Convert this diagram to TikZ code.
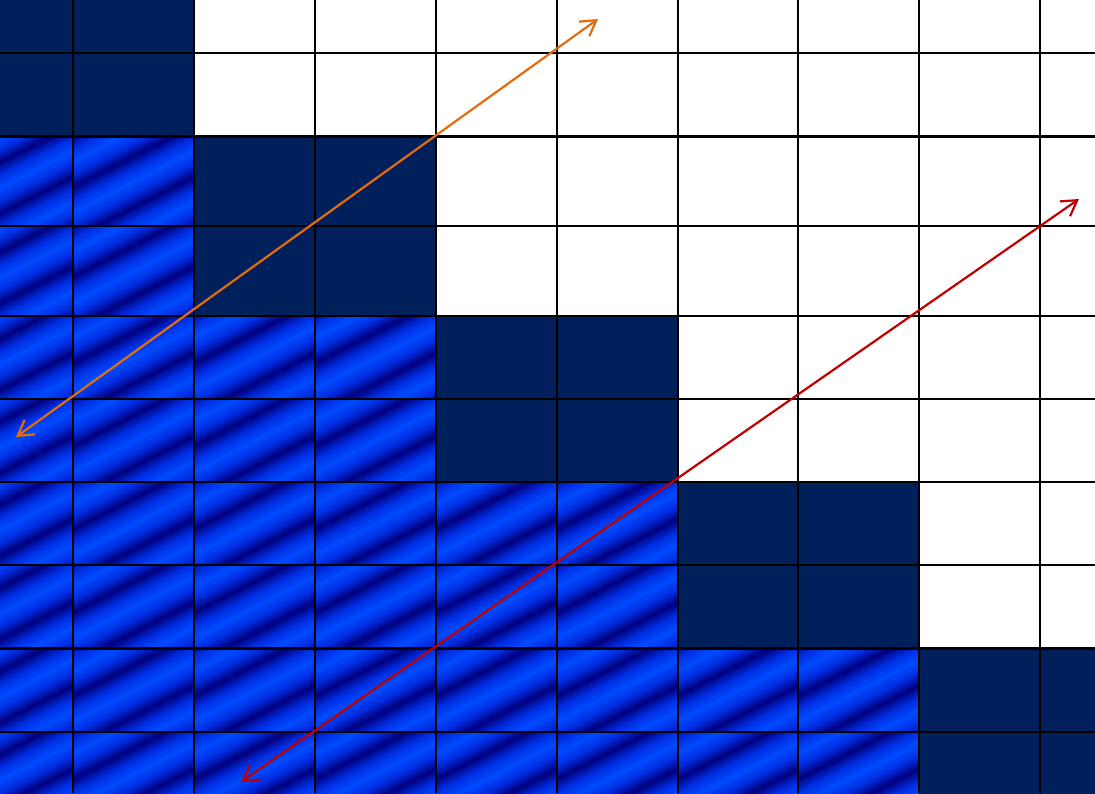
\documentclass[tikz,border=0pt]{standalone}
\usetikzlibrary{arrows.meta}
\definecolor{navy}{RGB}{0,32,92}
\definecolor{sdark}{RGB}{0,0,125}
\definecolor{smid}{RGB}{0,45,225}
\definecolor{sbright}{RGB}{0,75,255}
\definecolor{arrorange}{RGB}{228,108,10}
\definecolor{arrred}{RGB}{192,0,0}
\pgfdeclarehorizontalshading{stripes}{100bp}{%
color(0bp)=(sdark); color(3.571bp)=(smid); color(7.143bp)=(sbright); color(10.714bp)=(smid);
color(14.286bp)=(sdark); color(17.857bp)=(smid); color(21.429bp)=(sbright); color(25bp)=(smid);
color(28.571bp)=(sdark); color(32.143bp)=(smid); color(35.714bp)=(sbright); color(39.286bp)=(smid);
color(42.857bp)=(sdark); color(46.429bp)=(smid); color(50bp)=(sbright); color(53.571bp)=(smid);
color(57.143bp)=(sdark); color(60.714bp)=(smid); color(64.286bp)=(sbright); color(67.857bp)=(smid);
color(71.429bp)=(sdark); color(75bp)=(smid); color(78.571bp)=(sbright); color(82.143bp)=(smid);
color(85.714bp)=(sdark); color(89.286bp)=(smid); color(92.857bp)=(sbright); color(96.429bp)=(smid);
color(100bp)=(sdark)}
\begin{document}
\begin{tikzpicture}[x=1pt,y=-1pt,
  gridline/.style={line width=2.8pt,black},
  darkcell/.style={fill=navy},
  stripecell/.style={shading=stripes,shading angle=-63},
  arr/.style={line width=2.2pt,{Straight Barb[length=15pt,width=18pt]}-{Straight Barb[length=15pt,width=18pt]}}]
\useasboundingbox (0,0) rectangle (1095,793);
\clip (0,0) rectangle (1095,793);
\fill[white] (0,0) rectangle (1095,793);
\foreach \r/\ya/\yb in {0/-30/53,1/53/136.5,2/136.5/226,3/226/316,4/316/399,5/399/482,6/482/565,7/565/648.5,8/648.5/732,9/732/815}{
  \foreach \c/\xa/\xb in {0/-48/73,1/73/194,2/194/315,3/315/436,4/436/557,5/557/678,6/678/798,7/798/919,8/919/1040,9/1040/1161}{
    \pgfmathtruncatemacro\br{\r/2}
    \pgfmathtruncatemacro\bc{\c/2}
    \pgfmathsetmacro\cx{(\xa+\xb)/2}
    \pgfmathsetmacro\cy{(\ya+\yb)/2}
    \ifnum\br=\bc
      \fill[darkcell] (\xa,\ya) rectangle (\xb,\yb);
    \else\ifnum\br>\bc
      \begin{scope}
        \clip (\xa,\ya) rectangle (\xb,\yb);
        \shade[stripecell] (\cx-80,\cy-80) rectangle (\cx+80,\cy+80);
      \end{scope}
    \fi\fi
  }
}
\foreach \x in {73,194,315,436,557,678,798,919,1040}
  \draw[gridline] (\x,0) -- (\x,793);
\foreach \y in {53,136.5,226,316,399,482,565,648.5,732}
  \draw[gridline] (0,\y) -- (1095,\y);
\coordinate (oA) at (598,19);
\coordinate (oB) at (16,437);
\coordinate (rA) at (1079,199);
\coordinate (rB) at (241,782);
\draw[arr,arrorange] (oB) -- (oA);
\draw[arr,arrred] (rB) -- (rA);
\end{tikzpicture}
\end{document}
